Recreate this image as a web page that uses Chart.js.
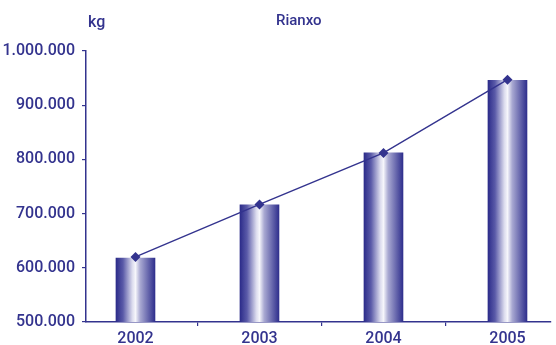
<!DOCTYPE html>
<html>
<head>
<meta charset="utf-8">
<script src="https://cdn.jsdelivr.net/npm/chart.js@4"></script>
<style>
  html, body { margin: 0; padding: 0; background: #fff; }
  #wrap { width: 556px; height: 345px; position: relative; }
</style>
</head>
<body>
<div id="wrap"><canvas id="rianxoChart"></canvas></div>
<script>
// data
const years = [2002, 2003, 2004, 2005];
const barValues = [618000, 716000, 812000, 946000];
const lineValues = [620000, 717000, 812000, 947000];
const yTicks = [500000, 600000, 700000, 800000, 900000, 1000000];

const navy = '#33338e';
const font = 'Roboto, "Liberation Sans", sans-serif';
const barWidth = 39;

// dégradé horizontal des barres
function barGradient(context) {
    const chart = context.chart;
    if (!chart.chartArea || context.dataIndex === undefined) return navy;
    const cx = chart.scales.x.getPixelForValue(years[context.dataIndex]);
    const x0 = cx - barWidth / 2;
    const g = chart.ctx.createLinearGradient(x0, 0, x0 + barWidth, 0);
    g.addColorStop(0, '#2c2c8a');
    g.addColorStop(0.18, '#5a5aa8');
    g.addColorStop(0.42, '#dcdcee');
    g.addColorStop(0.5, '#f6f6fb');
    g.addColorStop(0.62, '#a9a9d2');
    g.addColorStop(1, '#2f2f8d');
    return g;
}

const textPlugin = {
    id: 'texts',
    afterDraw(chart) {
        const ctx = chart.ctx;
        ctx.save();
        ctx.fillStyle = navy;
        ctx.textBaseline = 'alphabetic';
        ctx.textAlign = 'left';
        ctx.font = '500 16px ' + font;
        ctx.fillText('kg', 88, 27);
        ctx.font = '500 15px ' + font;
        ctx.fillText('Rianxo', 276, 25);
        ctx.restore();
    }
};

const ctx = document.getElementById('rianxoChart').getContext('2d');
new Chart(ctx, {
    type: 'bar',
    data: {
        datasets: [
            {
                type: 'line',
                data: years.map((y, i) => ({ x: y, y: lineValues[i] })),
                borderColor: navy,
                borderWidth: 1.4,
                backgroundColor: navy,
                pointStyle: 'rectRot',
                pointRadius: 5,
                pointBorderWidth: 0,
                tension: 0,
                order: 0
            },
            {
                type: 'bar',
                data: years.map((y, i) => ({ x: y, y: barValues[i] })),
                backgroundColor: barGradient,
                borderWidth: 0,
                barThickness: barWidth,
                order: 1
            }
        ]
    },
    options: {
        responsive: true,
        maintainAspectRatio: false,
        animation: false,
        layout: { padding: { top: 51, left: 0, right: 0, bottom: 0 } },
        plugins: {
            legend: { display: false },
            tooltip: { enabled: false }
        },
        scales: {
            x: {
                type: 'linear',
                min: 2001.601,
                max: 2005.351,
                offset: false,
                afterFit(scale) { scale.height = 23; },
                grid: {
                    offset: true,
                    drawOnChartArea: false,
                    drawTicks: true,
                    tickLength: 4,
                    color: navy,
                    lineWidth: 1.2
                },
                border: { color: navy, width: 1.5 },
                afterBuildTicks(scale) {
                    scale.ticks = years.map(v => ({ value: v }));
                },
                ticks: {
                    padding: 3,
                    color: navy,
                    font: { family: font, size: 16, weight: '500' },
                    callback: v => String(v)
                }
            },
            y: {
                min: yTicks[0],
                max: yTicks[yTicks.length - 1],
                afterFit(scale) { scale.width = 86; },
                afterBuildTicks(scale) {
                    scale.ticks = yTicks.map(v => ({ value: v }));
                },
                grid: {
                    drawOnChartArea: false,
                    drawTicks: true,
                    tickLength: 4,
                    color: navy,
                    lineWidth: 1.2
                },
                border: { color: navy, width: 1.5 },
                ticks: {
                    padding: 7,
                    color: navy,
                    font: { family: font, size: 16, weight: '500' },
                    callback: v => String(v).replace(/\B(?=(\d{3})+(?!\d))/g, '.')
                }
            }
        }
    },
    plugins: [textPlugin]
});
</script>
</body>
</html>
